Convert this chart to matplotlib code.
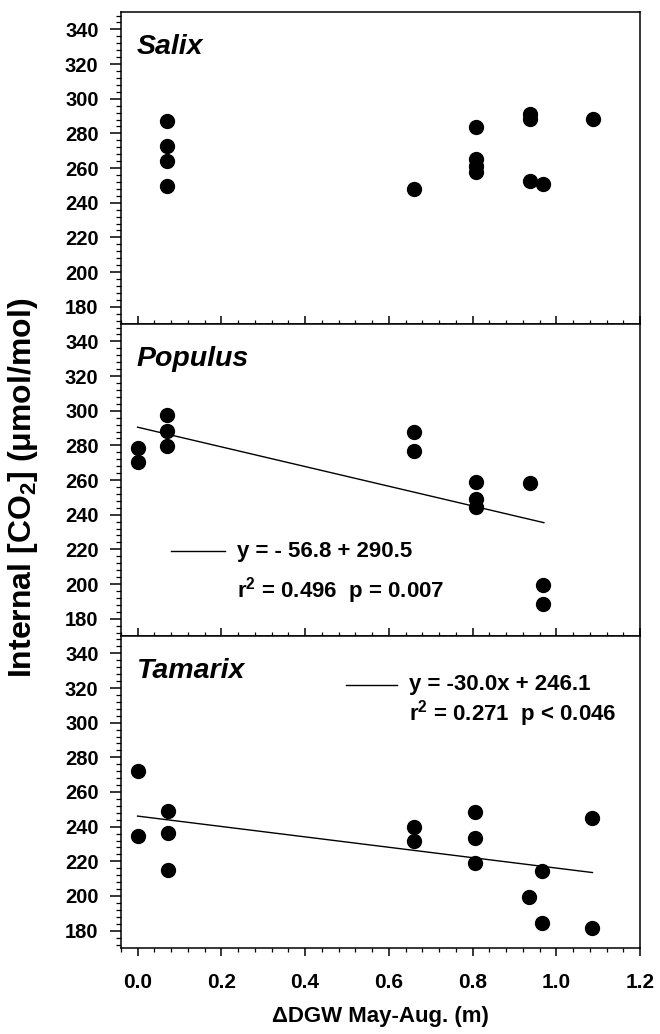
import matplotlib
matplotlib.use("Agg")
import matplotlib.pyplot as plt
from matplotlib.ticker import MultipleLocator

plt.rcParams['font.family'] = ['Liberation Sans', 'DejaVu Sans']
plt.rcParams['font.weight'] = 'bold'
plt.rcParams['mathtext.fontset'] = 'custom'
plt.rcParams['mathtext.rm'] = 'Liberation Sans:bold'
plt.rcParams['mathtext.bf'] = 'Liberation Sans:bold'
plt.rcParams['mathtext.default'] = 'rm'

# data (x = change in depth to groundwater, y = internal CO2)
salix_x = [0.07, 0.07, 0.07, 0.07, 0.661, 0.809, 0.809, 0.809, 0.809,
           0.938, 0.938, 0.938, 0.967, 1.088]
salix_y = [287.2, 272.5, 264.2, 249.6, 247.9, 283.5, 265.5, 261.0, 257.5,
           291.4, 288.5, 252.3, 250.8, 288.3]

populus_x = [0.0, 0.0, 0.07, 0.07, 0.07, 0.66, 0.66, 0.808, 0.808, 0.808,
             0.938, 0.967, 0.967]
populus_y = [278.6, 270.3, 297.8, 288.2, 279.9, 287.8, 276.7, 258.7, 249.0,
             244.5, 258.4, 199.7, 188.2]

tamarix_x = [0.0, 0.0, 0.073, 0.073, 0.073, 0.659, 0.659, 0.806, 0.806, 0.806,
             0.935, 0.966, 0.966, 1.084, 1.084]
tamarix_y = [272.3, 234.4, 249.0, 236.2, 215.0, 240.0, 231.9, 248.5, 233.7,
             219.0, 199.4, 214.2, 184.6, 244.8, 181.3]

# regressions: slope, intercept, x-range of the drawn line
populus_fit = [-56.8, 290.5]
populus_fit_x = [0.0, 0.97]
tamarix_fit = [-30.0, 246.1]
tamarix_fit_x = [0.0, 1.086]

panel_names = ['Salix', 'Populus', 'Tamarix']
x_ticks = [0.0, 0.2, 0.4, 0.6, 0.8, 1.0, 1.2]
x_labels = ['0.0', '0.2', '0.4', '0.6', '0.8', '1.0', '1.2']

fig = plt.figure(figsize=(6.6, 10.34), dpi=100)
left, width, h = 0.183, 0.787, 0.3017
bottoms = [0.0832 + 2 * h, 0.0832 + h, 0.0832]
axes = [fig.add_axes([left, b, width, h]) for b in bottoms]

series = [(salix_x, salix_y), (populus_x, populus_y), (tamarix_x, tamarix_y)]

for i, ax in enumerate(axes):
    xs, ys = series[i]
    ax.plot(xs, ys, 'o', color='black', ms=10, zorder=3)
    ax.set_xlim(-0.04, 1.2)
    ax.set_ylim(170, 350)
    ax.set_yticks(range(180, 341, 20))
    ax.yaxis.set_minor_locator(MultipleLocator(4))
    ax.set_xticks(x_ticks)
    ax.xaxis.set_minor_locator(MultipleLocator(0.04))
    for s in ax.spines.values():
        s.set_linewidth(1.1)
    ax.tick_params(axis='y', which='major', direction='out', length=8, width=1.1,
                   labelsize=14.5, pad=8)
    ax.tick_params(axis='y', which='minor', direction='out', length=3.5, width=0.9)
    if i < 2:
        ax.tick_params(axis='x', which='major', direction='in', length=6, width=1.1,
                       labelbottom=False)
        ax.tick_params(axis='x', which='minor', direction='in', length=3, width=0.9)
    else:
        ax.tick_params(axis='x', which='major', direction='out', length=6, width=1.1,
                       labelsize=15, pad=12)
        ax.tick_params(axis='x', which='minor', direction='out', length=3, width=0.9)
        ax.set_xticklabels(x_labels)
    for lab in ax.get_yticklabels() + ax.get_xticklabels():
        lab.set_fontweight('bold')
    ax.text(0.031, 0.865, panel_names[i], transform=ax.transAxes,
            fontsize=20.5, fontweight='bold', style='italic', va='baseline')

# Populus regression
ax = axes[1]
fx = populus_fit_x
ax.plot(fx, [populus_fit[0] * x + populus_fit[1] for x in fx], color='black', lw=1.0)
ax.plot([0.081, 0.208], [219, 219], color='black', lw=1.0)
ax.text(0.238, 219, 'y = - 56.8 + 290.5', fontsize=16, fontweight='bold', va='center')
ax.text(0.238, 196, 'r$^2$ = 0.496  p = 0.007', fontsize=16, fontweight='bold', va='center')

# Tamarix regression
ax = axes[2]
fx = tamarix_fit_x
ax.plot(fx, [tamarix_fit[0] * x + tamarix_fit[1] for x in fx], color='black', lw=1.0)
ax.plot([0.498, 0.620], [322, 322], color='black', lw=1.0)
ax.text(0.649, 322, 'y = -30.0x + 246.1', fontsize=16, fontweight='bold', va='center')
ax.text(0.649, 305, 'r$^2$ = 0.271  p < 0.046', fontsize=16, fontweight='bold', va='center')

axes[2].set_xlabel('ΔDGW May-Aug. (m)', fontsize=16, fontweight='bold', labelpad=10)
fig.text(0.035, 0.528, 'Internal [CO$_2$] (μmol/mol)', rotation=90, fontsize=23,
         fontweight='bold', ha='center', va='center')

fig.savefig('out.png', dpi=100)
